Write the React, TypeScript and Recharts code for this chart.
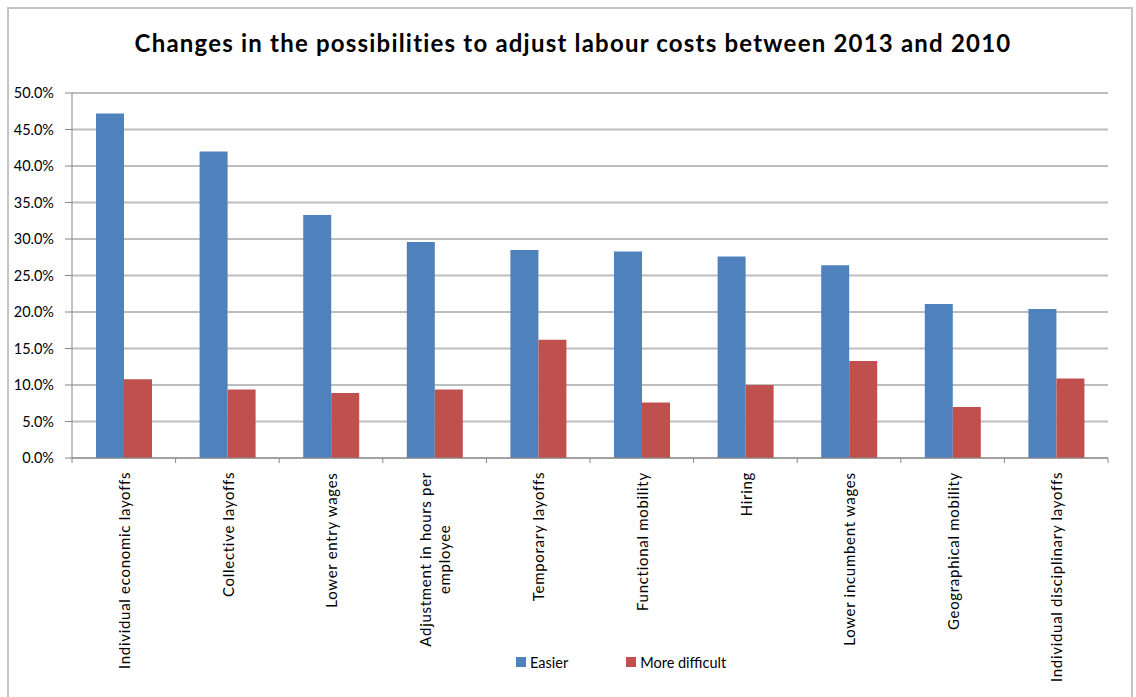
import { BarChart, Bar, XAxis, YAxis, CartesianGrid, Legend } from "recharts";

const categories = [
  "Individual economic layoffs",
  "Collective layoffs",
  "Lower entry wages",
  "Adjustment in hours per\nemployee",
  "Temporary layoffs",
  "Functional mobility",
  "Hiring",
  "Lower incumbent wages",
  "Geographical mobility",
  "Individual disciplinary layoffs",
];
const easier = [47.2, 42.0, 33.3, 29.6, 28.5, 28.3, 27.6, 26.4, 21.1, 20.4];
const moreDifficult = [10.8, 9.4, 8.9, 9.4, 16.2, 7.6, 10.0, 13.3, 7.0, 10.9];
const yTicks = [0, 5, 10, 15, 20, 25, 30, 35, 40, 45, 50];

const data = categories.map((name, i) => ({
  name,
  easier: easier[i],
  moreDifficult: moreDifficult[i],
}));

const FONT = "Lato, 'Open Sans', sans-serif";
const AXIS_GREY = "#868686";
const LABEL_SIZE = 15;
const LABEL_SPACING = 0.7;

let measureCtx: CanvasRenderingContext2D | null = null;
function textWidth(s: string) {
  if (!measureCtx) measureCtx = document.createElement("canvas").getContext("2d");
  if (!measureCtx) return s.length * 7;
  measureCtx.font = `${LABEL_SIZE}px Lato`;
  return measureCtx.measureText(s).width + s.length * LABEL_SPACING;
}

// rotated category label + tick marks between categories (Excel style)
function CategoryTick(props: any) {
  const { x, y, payload, index, visibleTicksCount } = props;
  const half = payload.offset ?? 0;
  const lines = String(payload.value).split("\n");
  const longest = Math.max(...lines.map((l) => textWidth(l)));
  const top = y + 14;
  return (
    <g>
      <line x1={x - half} x2={x - half} y1={y} y2={y + 5} stroke={AXIS_GREY} />
      {index === visibleTicksCount - 1 && (
        <line x1={x + half} x2={x + half} y1={y} y2={y + 5} stroke={AXIS_GREY} />
      )}
      {lines.map((line, i) => (
        <text
          key={i}
          transform={`translate(${x + 1 + (i - (lines.length - 1) / 2) * 19},${top + longest / 2}) rotate(-90)`}
          textAnchor="middle"
          dy="0.35em"
          fontFamily={FONT}
          fontSize={LABEL_SIZE}
          letterSpacing={LABEL_SPACING}
          fill="#000"
        >
          {line}
        </text>
      ))}
    </g>
  );
}

function LegendBox(props: any) {
  const items = props.payload ?? [];
  return (
    <div style={{ display: "flex", alignItems: "center", paddingLeft: 516, height: 20, gap: 58 }}>
      {items.map((it: any) => (
        <div key={it.value} style={{ display: "flex", alignItems: "center" }}>
          <span style={{ width: 10, height: 10, background: it.color, display: "inline-block" }} />
          <span style={{ marginLeft: 4, fontFamily: FONT, fontSize: 14.5, color: "#000" }}>{it.value}</span>
        </div>
      ))}
    </div>
  );
}

export default function App() {
  return (
    <div style={{ position: "absolute", left: 0, top: 0, width: 1136, height: 697, background: "#fff", overflow: "hidden" }}>
      <div
        style={{
          position: "absolute",
          left: 7,
          top: 7,
          width: 1122,
          height: 720,
          border: "2px solid #c4c4c4",
        }}
      />
      <BarChart
        width={1136}
        height={697}
        data={data}
        margin={{ top: 93, right: 28, left: 0, bottom: 39 }}
        barGap={0}
        barSize={28}
      >
        <CartesianGrid vertical={false} stroke="#bdbdbd" strokeWidth={2} />
        <XAxis
          dataKey="name"
          interval={0}
          height={200}
          tickLine={false}
          tickSize={0}
          tickMargin={0}
          stroke={AXIS_GREY}
          tick={<CategoryTick />}
        />
        <YAxis
          width={72}
          domain={[0, 50]}
          ticks={yTicks}
          interval={0}
          tickSize={7}
          tickMargin={11}
          stroke={AXIS_GREY}
          tickFormatter={(v: number) => `${v.toFixed(1)}%`}
          tick={{ fill: "#000", fontFamily: FONT, fontSize: 14.5 }}
        />
        <Legend
          layout="horizontal"
          verticalAlign="middle"
          align="center"
          wrapperStyle={{ top: 652, left: 0, width: 1136 }}
          content={<LegendBox />}
        />
        <Bar dataKey="easier" name="Easier" fill="#4F81BD" isAnimationActive={false} />
        <Bar dataKey="moreDifficult" name="More difficult" fill="#C0504D" isAnimationActive={false} />
      </BarChart>
      <div
        style={{
          position: "absolute",
          left: 5,
          top: 31,
          width: 1136,
          textAlign: "center",
          fontFamily: FONT,
          fontWeight: 700,
          fontSize: 24,
          letterSpacing: 1.2,
          lineHeight: "24px",
          color: "#000",
        }}
      >
        Changes in the possibilities to adjust labour costs between 2013 and 2010
      </div>
    </div>
  );
}
